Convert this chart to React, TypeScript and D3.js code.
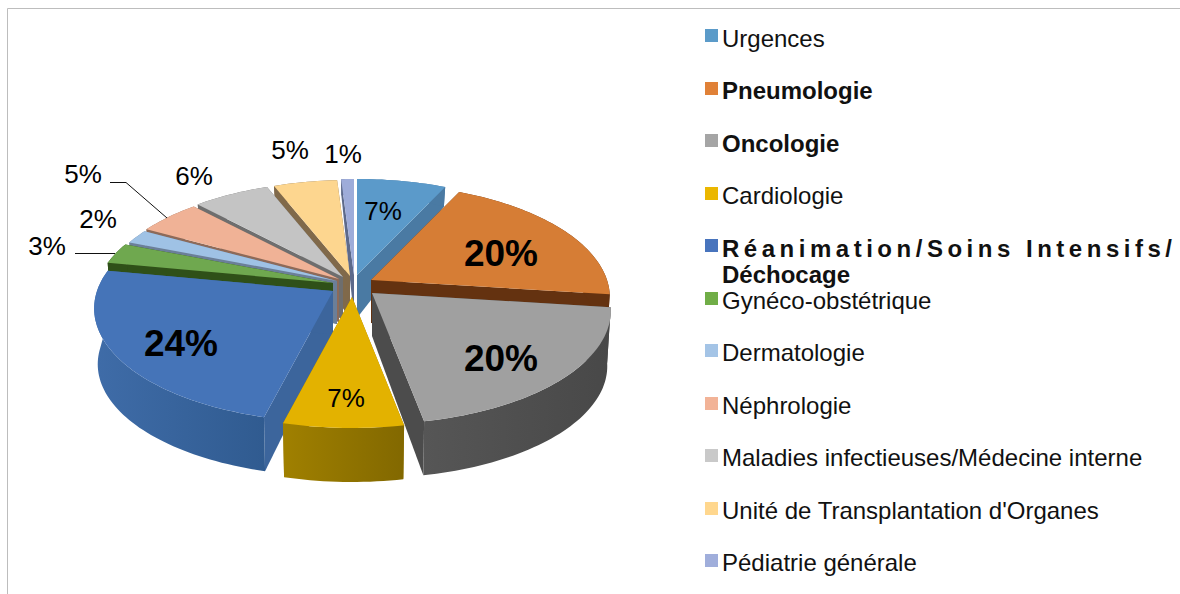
import React from "react";
import * as d3 from "d3";

const categories = ["Urgences","Pneumologie","Oncologie","Cardiologie","Réanimation/Soins Intensifs/","Gynéco-obstétrique","Dermatologie","Néphrologie","Maladies infectieuses/Médecine interne","Unité de Transplantation d'Organes","Pédiatrie générale"];
const values = [7,20,20,7,24,3,2,5,6,5,1];
const topColors = ["#5b9aca","#d67d35","#a0a0a0","#e3b200","#4574b8","#6fa84f","#9fc2e5","#f0b296","#c4c4c4","#fdd68f","#9eacd9"];
const legendColors = ["#5b9bc9","#e08137","#a5a5a5","#ebb700","#4874bd","#70ad47","#a4c4e6","#f2b397","#c9c9c9","#ffd78e","#a0aedb"];
const wallColors = ["#4a7aa3","#643210","#4c4c4c","#9a7a00","#3c659c","#2f5018","#6b7f99","#8d6a59","#6e6e6e","#80694a","#5d6a8b"];
const apexX = [357,371,372,352,333,333,337,339,343,350,354];
const apexY = [275,280,293,297,291,283,281,279,277,276,275];
const paintOrder = [10,9,8,7,6,5,0,1,4,2,3];
const boldLegend = [false,true,true,false,true,false,false,false,false,false,false];
const legendBaselines = [47,99,152,204,257,309,361,414,466,519,571];
const legendMarkerTops = [29,82,134,187,239,292,344,397,449,502,554];
const labelText = ["7%","20%","20%","7%","24%","3%","2%","5%","6%","5%","1%"];
const labelX = [383,501,501,346,181,47,98,83,194,290,343];
const labelY = [211,253,358,398,343,246,219,174,176,150,154];
const bigLabel = [false,true,true,false,true,false,false,false,false,false,false];
const wallGradients: Record<number,[string,string]> = {2:["#565656","#484848"],3:["#a08000","#826800"],4:["#3f6ca8","#305b90"]};

const W = 1180, H = 594;
const RX = 236, RY = 110.8, K = 0.154;
const FONT = "'Liberation Sans', Arial, sans-serif";

const project = (i: number, a: number, r = 1): [number, number] => {
  const depth = -Math.cos(a) * r;
  const s = 1 / (1 - K * depth);
  return [apexX[i] + RX * Math.sin(a) * r * s, apexY[i] + RY * depth * s];
};
const wallHeight = (a: number, r = 1) => {
  if (r === 0) return 43;
  const d = -Math.cos(a) * r;
  return d >= 0 ? 56 - 2 * d : 56 + 40 * d;
};
const lower = (i: number, a: number, r = 1): [number, number] => {
  const [x, y] = project(i, a, r);
  return [apexX[i] + (x - apexX[i]) * 0.985, y + wallHeight(a, r)];
};
const line = d3.line<[number, number]>().x(p => p[0]).y(p => p[1]);

export default function App() {
  const arcs = d3.pie<number>().sort(null).startAngle(0).endAngle(2 * Math.PI)(values);
  const samples = (a0: number, a1: number) => {
    const n = Math.max(2, Math.ceil((a1 - a0) / 0.025));
    return d3.range(n + 1).map(k => a0 + (a1 - a0) * k / n);
  };
  const fmt = (k: number) => `grad${k}`;
  return (
    <svg width={W} height={H} viewBox={`0 0 ${W} ${H}`} style={{ position: "absolute", left: 0, top: 0, background: "#fff" }} fontFamily={FONT}>
      <defs>
        {Object.entries(wallGradients).map(([k, c]) => (
          <linearGradient key={k} id={fmt(+k)} x1="0" x2="1" y1="0" y2="0">
            <stop offset="0" stopColor={c[0]} />
            <stop offset="1" stopColor={c[1]} />
          </linearGradient>
        ))}
      </defs>
      <path d={`M7.5 ${H} V8.5 H${W}`} fill="none" stroke="#bdbdbd" strokeWidth={1} />
      {paintOrder.map(i => {
        const { startAngle: a0, endAngle: a1 } = arcs[i];
        const ts = samples(a0, a1);
        const topArc = ts.map(a => project(i, a));
        const botArc = ts.map(a => lower(i, a)).reverse();
        const apex = project(i, 0, 0);
        const apexLow = lower(i, 0, 0);
        const wallFill = wallGradients[i] ? `url(#${fmt(i)})` : wallColors[i];
        return (
          <g key={i}>
            <path d={line([apex, project(i, a0), lower(i, a0), apexLow])! + "Z"} fill={wallColors[i]} />
            <path d={line([apex, project(i, a1), lower(i, a1), apexLow])! + "Z"} fill={wallColors[i]} />
            <path d={line([...topArc, ...botArc])! + "Z"} fill={wallFill} />
            <path d={line([apex, ...topArc])! + "Z"} fill={topColors[i]} />
          </g>
        );
      })}
      <path d="M110 182.5 H126 L167 218" fill="none" stroke="#111" strokeWidth={1} />
      <path d="M75 253.5 H115" fill="none" stroke="#111" strokeWidth={1} />
      {labelText.map((t, i) => (
        <text key={i} x={labelX[i]} y={labelY[i]} textAnchor="middle" dominantBaseline="central"
          fontSize={bigLabel[i] ? 37 : 26} fontWeight={bigLabel[i] ? 700 : 400} fill="#000">{t}</text>
      ))}
      {categories.map((c, i) => (
        <g key={c}>
          <rect x={705} y={legendMarkerTops[i]} width={13} height={13} fill={legendColors[i]} />
          <text x={722} y={legendBaselines[i]} fontSize={24} fontWeight={boldLegend[i] ? 700 : 400} fill="#111"
            {...(i === 4 ? { textLength: 450, lengthAdjust: "spacing" } : {})}>{c}</text>
        </g>
      ))}
      <text x={722} y={283} fontSize={24} fontWeight={700} fill="#111">Déchocage</text>
    </svg>
  );
}
